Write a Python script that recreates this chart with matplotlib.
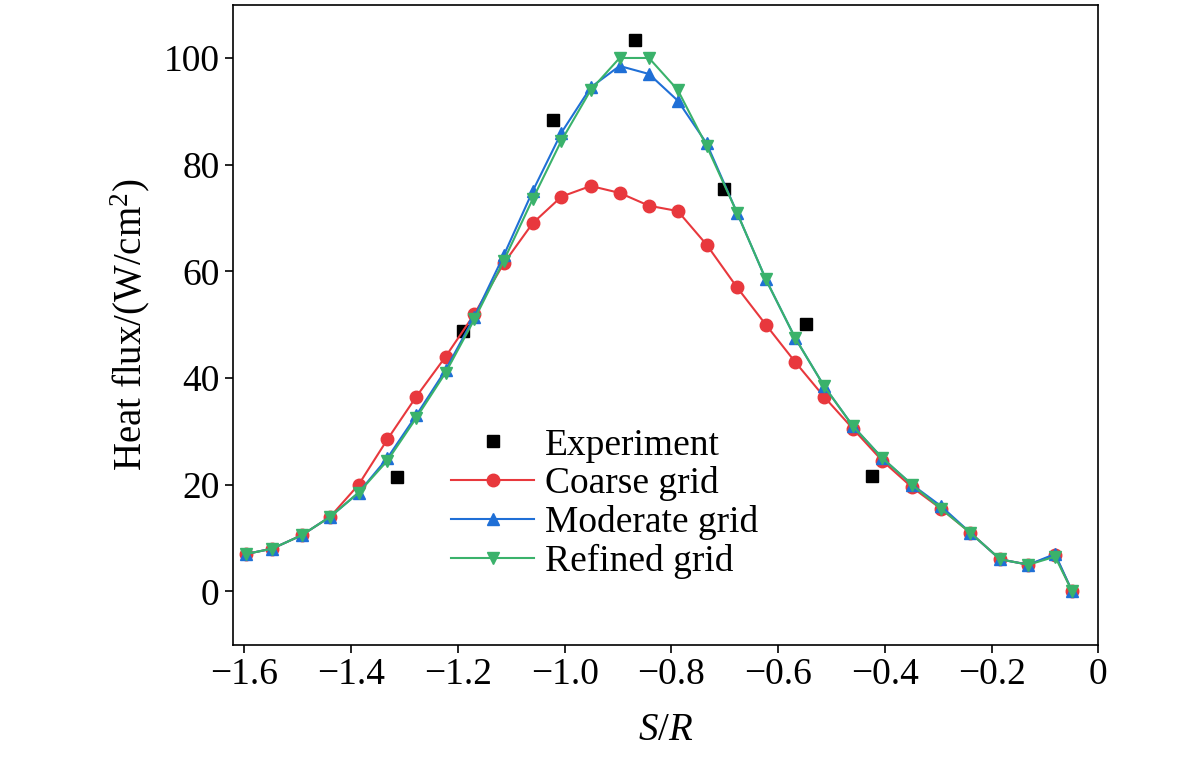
import matplotlib.pyplot as plt
import numpy as np

plt.rcParams['font.family'] = ['Liberation Serif', 'DejaVu Serif']
plt.rcParams['mathtext.fontset'] = 'custom'
plt.rcParams['mathtext.rm'] = 'Liberation Serif'
plt.rcParams['mathtext.it'] = 'Liberation Serif:italic'

sr = [-1.597, -1.548, -1.493, -1.439, -1.386, -1.332, -1.278, -1.223, -1.169, -1.114,
      -1.060, -1.006, -0.951, -0.897, -0.842, -0.788, -0.734, -0.677, -0.623, -0.568,
      -0.514, -0.460, -0.405, -0.349, -0.295, -0.240, -0.184, -0.131, -0.081, -0.049]
coarse = [7, 8, 10.5, 14, 20, 28.5, 36.5, 44, 52, 61.5, 69, 74, 76, 74.7, 72.3, 71.3,
          65, 57, 50, 43, 36.5, 30.5, 24.5, 19.5, 15.5, 11, 6, 5, 6.8, 0]
moderate = [7, 8, 10.5, 14, 18.5, 25, 33, 41.5, 51.5, 63, 75, 86, 94.5, 98.5, 97, 92,
            84, 71, 58.5, 47.5, 38.5, 31, 25, 20, 16, 11, 6, 5, 7, 0]
refined = [7, 8, 10.5, 14, 18.5, 24.5, 32.5, 41, 51, 62, 73.5, 84.5, 94, 100, 100, 94,
           83.5, 71, 58.5, 47.5, 38.5, 31, 25, 20, 15.5, 11, 6, 5, 6.5, 0]
exp_x = [-1.315, -1.191, -1.021, -0.869, -0.702, -0.548, -0.424]
exp_y = [21.5, 48.9, 88.4, 103.4, 75.4, 50.2, 21.6]

fig = plt.figure(figsize=(11.81, 7.73), dpi=100)
ax = fig.add_axes([0.197, 0.166, 0.733, 0.828])

ax.plot(exp_x, exp_y, 's', color='black', ms=8, ls='none', label='Experiment')
ax.plot(sr, coarse, '-o', color='#e8383d', ms=9, lw=1.5, label='Coarse grid')
ax.plot(sr, moderate, '-^', color='#1f6fd6', ms=9, lw=1.5, label='Moderate grid')
ax.plot(sr, refined, '-v', color='#3ab26b', ms=9, lw=1.5, label='Refined grid')

ax.set_xlim(-1.622, 0)
ax.set_ylim(-10, 110)
ax.set_xticks(np.arange(-1.6, 0.01, 0.2))
ax.set_xticklabels(['\u22121.6', '\u22121.4', '\u22121.2', '\u22121.0', '\u22120.8',
                    '\u22120.6', '\u22120.4', '\u22120.2', '0'])
ax.set_yticks([0, 20, 40, 60, 80, 100])
ax.tick_params(labelsize=27, width=1.2, length=6)
for s in ax.spines.values():
    s.set_linewidth(1.2)
ax.set_xlabel('$S/R$', fontsize=28, labelpad=14)
ax.set_ylabel('Heat flux/(W/cm$^2$)', fontsize=28, labelpad=8)
ax.legend(loc='lower center', bbox_to_anchor=(0.43, 0.05), frameon=False, fontsize=27,
          handlelength=2.2, handletextpad=0.3, labelspacing=0.1)

fig.savefig('out.png')
